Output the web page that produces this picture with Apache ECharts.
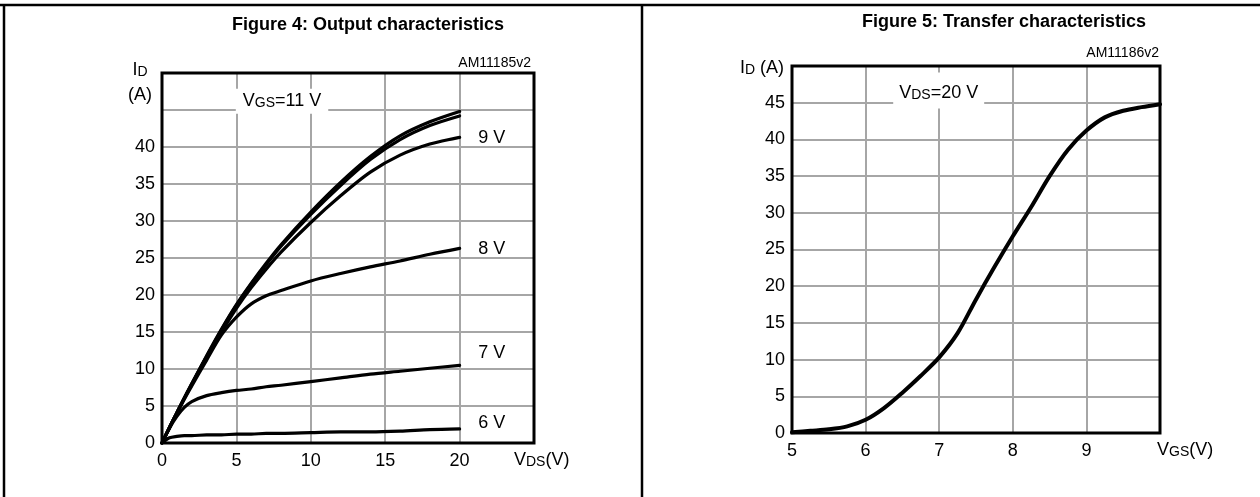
<!DOCTYPE html>
<html><head><meta charset="utf-8">
<script src="https://cdn.jsdelivr.net/npm/echarts@6/dist/echarts.min.js"></script>
<style>html,body{margin:0;padding:0;background:#fff}#c{width:1260px;height:497px}</style>
</head><body><div id="c"></div>
<script>
// ---------- Figure 4: output characteristics ----------
const vds      = [0, 0.5, 1, 1.5, 2, 3, 4, 5, 6, 7, 8, 10, 12, 14, 16, 18, 20];
const idVgs11  = [0, 2.1, 4.1, 6.1, 8.0, 11.8, 15.4, 18.7, 21.6, 24.3, 26.8, 31.2, 35.2, 38.7, 41.5, 43.4, 44.8];
const idVgs10  = [0, 2.1, 4.1, 6.1, 8.0, 11.7, 15.3, 18.6, 21.5, 24.1, 26.6, 30.9, 34.8, 38.3, 41.0, 42.9, 44.2];
const idVgs9   = [0, 2.1, 4.1, 6.0, 7.9, 11.6, 15.0, 18.2, 21.0, 23.5, 25.8, 29.8, 33.4, 36.6, 38.9, 40.4, 41.3];
const idVgs8   = [0, 2.0, 4.0, 5.9, 7.7, 11.2, 14.6, 17.0, 18.8, 19.9, 20.6, 21.9, 22.9, 23.8, 24.6, 25.5, 26.3];
const idVgs7   = [0, 2.0, 3.6, 4.8, 5.6, 6.4, 6.8, 7.1, 7.3, 7.6, 7.8, 8.3, 8.8, 9.3, 9.7, 10.1, 10.5];
const idVgs6   = [0, 0.7, 0.9, 1.0, 1.0, 1.1, 1.1, 1.2, 1.2, 1.3, 1.3, 1.4, 1.5, 1.5, 1.6, 1.8, 1.9];
const outXTicks = [0, 5, 10, 15, 20];
const outYTicks = [0, 5, 10, 15, 20, 25, 30, 35, 40];
const outCurveLabels = [[22.2, 41.2, '9 V'], [22.2, 26.2, '8 V'], [22.2, 12.1, '7 V'], [22.2, 2.6, '6 V']];
const outCondition = [8.1, 46.1, 'GS', '=11 V'];

// ---------- Figure 5: transfer characteristics ----------
const vgs        = [5, 5.25, 5.5, 5.75, 6, 6.25, 6.5, 6.75, 7, 7.25, 7.5, 7.75, 8, 8.25, 8.5, 8.75, 9, 9.25, 9.5, 9.75, 10];
const idTransfer = [0.1, 0.3, 0.5, 0.9, 1.8, 3.4, 5.5, 7.8, 10.3, 13.6, 18.2, 22.6, 26.8, 30.8, 35.0, 38.6, 41.2, 43.0, 43.9, 44.4, 44.8];
const trXTicks = [5, 6, 7, 8, 9];
const trYTicks = [0, 5, 10, 15, 20, 25, 30, 35, 40, 45];
const trCondition = [7.0, 46.6, 'DS', '=20 V'];

const FONT = '"Liberation Sans", Arial, Helvetica, sans-serif';
const richSub = {
  m: { fontSize: 18, fontFamily: FONT, color: '#000', verticalAlign: 'bottom' },
  s: { fontSize: 14, fontFamily: FONT, color: '#000', verticalAlign: 'bottom' }
};
const GRID_COLOR = '#a6a6a6';

function mainX(gi, min, max, interval, ticks, name, gap) {
  return {
    gridIndex: gi, type: 'value', min: min, max: max, interval: interval, position: 'bottom',
    axisLine: { show: false, onZero: false }, axisTick: { show: false },
    splitLine: { show: true, lineStyle: { color: GRID_COLOR, width: 2 } },
    axisLabel: { margin: 9, fontSize: 18, color: '#000', fontFamily: FONT,
      formatter: v => ticks.includes(v) ? String(v) : '' },
    name: name, nameLocation: 'end', nameGap: gap,
    nameTextStyle: { align: 'left', verticalAlign: 'top', padding: [8, 0, 0, 0], rich: richSub },
    z: 0
  };
}
function mainY(gi, min, max, interval, ticks) {
  return {
    gridIndex: gi, type: 'value', min: min, max: max, interval: interval,
    axisLine: { show: false, onZero: false }, axisTick: { show: false },
    splitLine: { show: true, lineStyle: { color: GRID_COLOR, width: 2 } },
    axisLabel: { margin: 7, fontSize: 18, color: '#000', fontFamily: FONT,
      formatter: v => ticks.includes(v) ? String(v) : '' },
    z: 0
  };
}
function curve(x, y, xi, w) {
  return {
    type: 'line', xAxisIndex: xi, yAxisIndex: xi, data: x.map((v, i) => [v, y[i]]),
    showSymbol: false, smooth: 0.3, silent: true, z: 6,
    lineStyle: { color: '#000', width: w, cap: 'round', join: 'round' }
  };
}
function notes(list, xi) {
  return {
    type: 'scatter', xAxisIndex: xi, yAxisIndex: xi, symbol: 'circle', symbolSize: 1, silent: true, z: 7,
    itemStyle: { color: 'transparent', opacity: 1 },
    data: list.map(n => ({ value: [n[0], n[1]], label: { formatter: n[2] } })),
    label: { show: true, position: [0, 0], align: 'center', verticalAlign: 'middle',
      fontSize: 18, fontFamily: FONT, color: '#000' }
  };
}
function condition(c, xi, pad) {
  return {
    type: 'scatter', xAxisIndex: xi, yAxisIndex: xi, symbol: 'circle', symbolSize: 1, silent: true, z: 7,
    itemStyle: { color: 'transparent', opacity: 1 },
    data: [[c[0], c[1]]],
    label: { show: true, position: [0, 0], align: 'center', verticalAlign: 'middle',
      formatter: '{m|V}{s|' + c[2] + '}{m|' + c[3] + '}', rich: richSub,
      backgroundColor: '#fff', padding: pad }
  };
}

const option = {
  animation: false,
  backgroundColor: '#fff',
  grid: [
    { left: 162, top: 73, width: 372, height: 370, show: true, borderColor: '#000', borderWidth: 3, z: 5 },
    { left: 792, top: 66, width: 368, height: 367, show: true, borderColor: '#000', borderWidth: 3, z: 5 }
  ],
  xAxis: [
    mainX(0, 0, 25, 5, outXTicks, '{m|V}{s|DS}{m|(V)}', -20),
    mainX(1, 5, 10, 1, trXTicks, '{m|V}{s|GS}{m|(V)}', -3)
  ],
  yAxis: [
    mainY(0, 0, 50, 5, outYTicks),
    mainY(1, 0, 50, 5, trYTicks)
  ],
  series: [
    curve(vds, idVgs11, 0, 3.2),
    curve(vds, idVgs10, 0, 3.2),
    curve(vds, idVgs9, 0, 3.2),
    curve(vds, idVgs8, 0, 3.2),
    curve(vds, idVgs7, 0, 3.2),
    curve(vds, idVgs6, 0, 3.2),
    notes(outCurveLabels, 0),
    condition(outCondition, 0, [3, 7, 4, 7]),
    curve(vgs, idTransfer, 1, 4),
    condition(trCondition, 1, [12, 6, 6, 6])
  ],
  graphic: [
    { type: 'line', shape: { x1: 0, y1: 5, x2: 1260, y2: 5 }, style: { stroke: '#000', lineWidth: 2.5 } },
    { type: 'line', shape: { x1: 4, y1: 5, x2: 4, y2: 497 }, style: { stroke: '#000', lineWidth: 2.5 } },
    { type: 'line', shape: { x1: 642, y1: 5, x2: 642, y2: 497 }, style: { stroke: '#000', lineWidth: 2.5 } },
    { type: 'text', x: 368, y: 25, style: { text: 'Figure 4: Output characteristics', fontSize: 18, fontWeight: 'bold', fontFamily: FONT, fill: '#000', align: 'center', verticalAlign: 'middle', textAlign: 'center', textVerticalAlign: 'middle' } },
    { type: 'text', x: 1004, y: 22, style: { text: 'Figure 5: Transfer characteristics', fontSize: 18, fontWeight: 'bold', fontFamily: FONT, fill: '#000', align: 'center', verticalAlign: 'middle', textAlign: 'center', textVerticalAlign: 'middle' } },
    { type: 'text', x: 531, y: 63, style: { text: 'AM11185v2', fontSize: 14, fontFamily: FONT, fill: '#000', align: 'right', verticalAlign: 'middle', textAlign: 'right', textVerticalAlign: 'middle' } },
    { type: 'text', x: 1159, y: 53, style: { text: 'AM11186v2', fontSize: 14, fontFamily: FONT, fill: '#000', align: 'right', verticalAlign: 'middle', textAlign: 'right', textVerticalAlign: 'middle' } },
    { type: 'text', x: 140, y: 70, style: { text: '{m|I}{s|D}', rich: richSub, align: 'center', verticalAlign: 'middle', textAlign: 'center', textVerticalAlign: 'middle' } },
    { type: 'text', x: 140, y: 95, style: { text: '(A)', fontSize: 18, fontFamily: FONT, fill: '#000', align: 'center', verticalAlign: 'middle', textAlign: 'center', textVerticalAlign: 'middle' } },
    { type: 'text', x: 784, y: 68, style: { text: '{m|I}{s|D}{m| (A)}', rich: richSub, align: 'right', verticalAlign: 'middle', textAlign: 'right', textVerticalAlign: 'middle' } }
  ]
};

const chart = echarts.init(document.getElementById('c'), null, { renderer: 'canvas' });
chart.setOption(option);
</script>
</body></html>
